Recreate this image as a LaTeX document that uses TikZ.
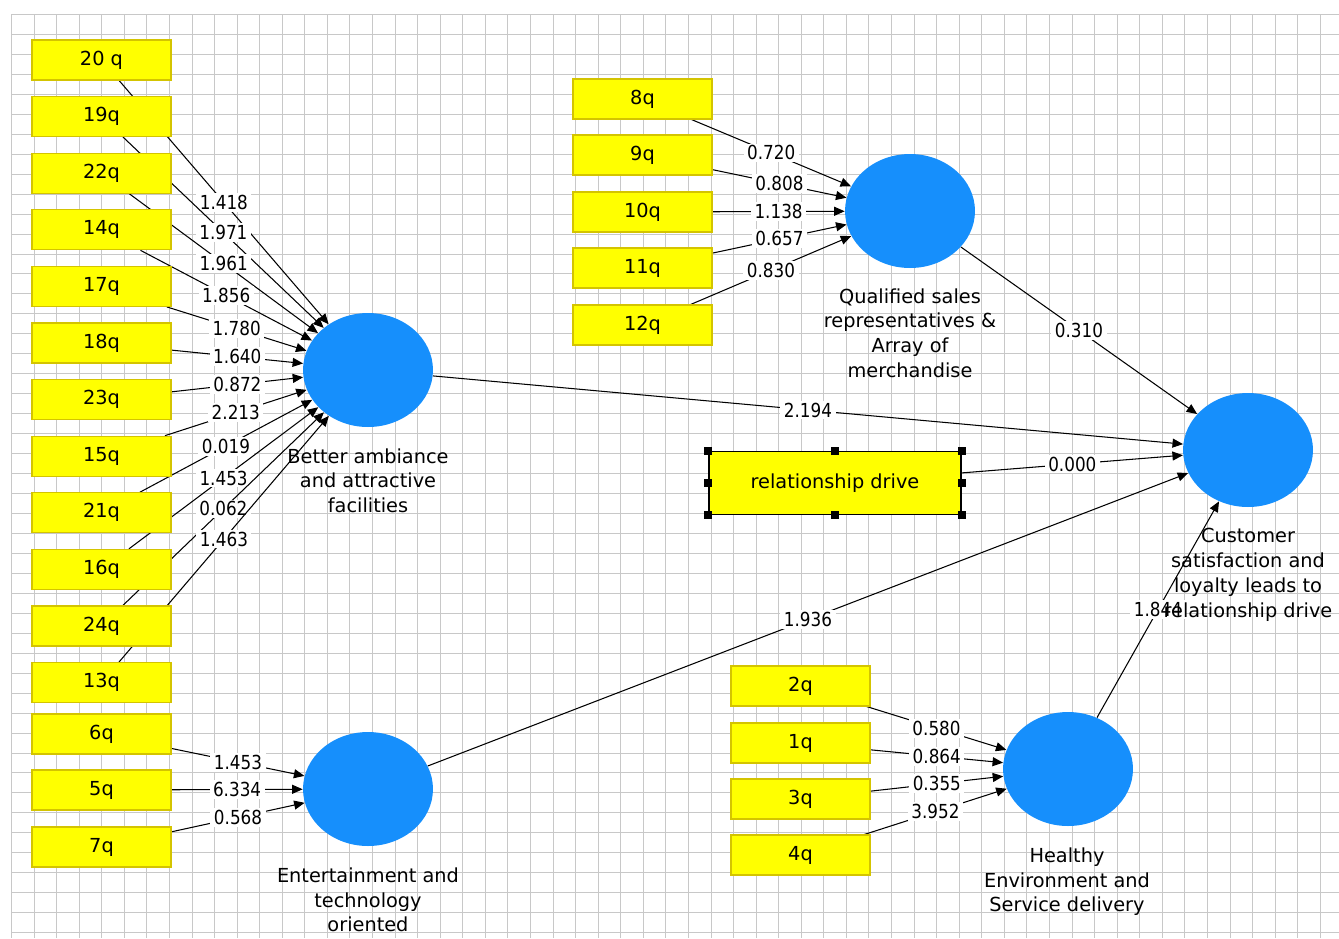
\documentclass[tikz,border=0pt]{standalone}
\usepackage{fontspec}
\setmainfont{DejaVu Sans}
\newfontfamily\numfont[FakeStretch=0.87]{DejaVu Sans}
\usetikzlibrary{arrows.meta,shapes.geometric}
\definecolor{boxyellow}{RGB}{255,255,0}
\definecolor{boxedge}{RGB}{212,196,0}
\definecolor{latentblue}{RGB}{22,143,252}
\definecolor{gridgray}{RGB}{200,200,200}
\pgfdeclarelayer{grid}
\pgfdeclarelayer{edges}
\pgfsetlayers{grid,edges,main}

\begin{document}
\begin{tikzpicture}[x=0.02cm, y=-0.02cm, >={Triangle[length=2.1mm,width=1.8mm]},
  font=\fontsize{11}{14.2}\selectfont,
  ind/.style={draw=boxedge, fill=boxyellow, line width=0.6pt,
    minimum width=2.78cm, minimum height=0.8cm, inner sep=0pt},
  latent/.style={ellipse, fill=latentblue, minimum width=2.6cm,
    minimum height=2.28cm, inner sep=0pt},
  lbl/.style={align=center, anchor=north, inner sep=0pt},
  link/.style={->, line width=0.6pt},
  wt/.style={fill=white, inner xsep=2pt, inner ysep=1.2pt,
    font=\numfont\fontsize{11}{13}\selectfont}]
  \useasboundingbox (0,0) rectangle (1339,938);

  %% ── Grid paper (snapped to whole pixels) ───────────────────
  \begin{pgfonlayer}{grid}
    \foreach \i in {0,...,58}
      \draw[gridgray, line width=0.6pt]
        ({round(11+22.565*\i)+0.5},14) -- ({round(11+22.565*\i)+0.5},938);
    \foreach \j in {0,...,46}
      \draw[gridgray, line width=0.6pt]
        (11,{round(14+19.96*\j)+0.5}) -- (1339,{round(14+19.96*\j)+0.5});
  \end{pgfonlayer}

  %% ── Latent variables ───────────────────────────────────────
  \node[latent] (ambiance)  at (368,370)  {};
  \node[latent] (sales)     at (910,211)  {};
  \node[latent] (customer)  at (1248,450) {};
  \node[latent] (entertain) at (368,789)  {};
  \node[latent] (healthy)   at (1068,769) {};

  \node[lbl] (ambiancetxt)  at (368,448)  {Better ambiance\\and attractive\\facilities};
  \node[lbl] (salestxt)     at (910,288)  {Qualified sales\\representatives \&\\Array of\\merchandise};
  \node[lbl] (entertaintxt) at (368,867)  {Entertainment and\\technology\\oriented};
  \node[lbl] (healthytxt)   at (1067,847) {Healthy\\Environment and\\Service delivery};

  %% ── Indicators ─────────────────────────────────────────────
  %% left column (better ambiance)
  \foreach \n/\t [count=\k from 0] in {q20/20 q,q19/19q,q22/22q,q14/14q,q17/17q,q18/18q,
      q23/23q,q15/15q,q21/21q,q16/16q,q24/24q,q13/13q}
    \node[ind] (\n) at (101.5,{60+56.6*\k}) {\t};
  %% entertainment
  \foreach \n/\t/\y in {q6/6q/734,q5/5q/790,q7/7q/847}
    \node[ind] (\n) at (101.5,\y) {\t};
  %% qualified sales
  \foreach \n/\t/\y in {q8/8q/99,q9/9q/155,q10/10q/212,q11/11q/268,q12/12q/325}
    \node[ind] (\n) at (642.5,\y) {\t};
  %% healthy environment
  \foreach \n/\t/\y in {q2/2q/686,q1/1q/743,q3/3q/799,q4/4q/855}
    \node[ind] (\n) at (800.5,\y) {\t};

  %% relationship drive (selected)
  \node[draw=black, fill=boxyellow, line width=0.9pt, minimum width=5.04cm,
    minimum height=1.26cm] (rel) at (835,483) {relationship drive};
  \foreach \a in {north west,north,north east,east,south east,south,south west,west}
    \fill (rel.\a) +(-4,-4) rectangle +(4,4);

  %% ── Paths with weights ─────────────────────────────────────
  \begin{pgfonlayer}{edges}
    \foreach \n/\v in {q20/1.418,q19/1.971,q22/1.961,q14/1.856,q17/1.780,q18/1.640,
        q23/0.872,q15/2.213,q21/0.019,q16/1.453,q24/0.062,q13/1.463}
      \draw[link] (\n) -- node[wt] {\v} (ambiance);
    \foreach \n/\v in {q6/1.453,q5/6.334,q7/0.568}
      \draw[link] (\n) -- node[wt] {\v} (entertain);
    \foreach \n/\v in {q8/0.720,q9/0.808,q10/1.138,q11/0.657,q12/0.830}
      \draw[link] (\n) -- node[wt] {\v} (sales);
    \foreach \n/\v in {q2/0.580,q1/0.864,q3/0.355,q4/3.952}
      \draw[link] (\n) -- node[wt] {\v} (healthy);
    %% structural model
    \draw[link] (ambiance)  -- node[wt] {2.194} (customer);
    \draw[link] (sales)     -- node[wt] {0.310} (customer);
    \draw[link] (rel)       -- node[wt] {0.000} (customer);
    \draw[link] (entertain) -- node[wt] {1.936} (customer);
    \draw[link] (healthy)   -- node[wt] {1.844} (customer);
  \end{pgfonlayer}

  \node[lbl] (customertxt) at (1248,528)
    {Customer\\satisfaction and\\loyalty leads to\\relationship drive};
\end{tikzpicture}
\end{document}
